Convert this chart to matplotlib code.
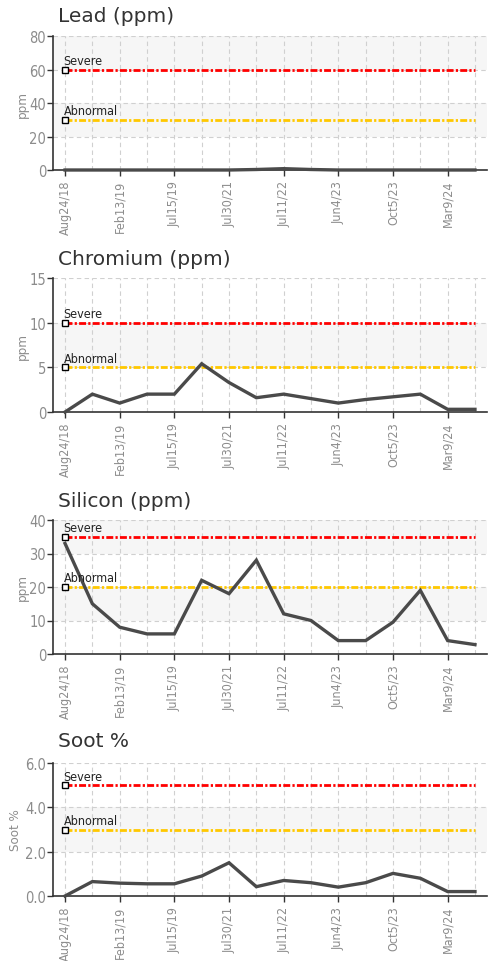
"""
Oil analysis trend charts: lead, chromium, silicon and soot.
"""

import matplotlib
matplotlib.use("Agg")
import matplotlib.pyplot as plt


SAMPLE_DATES = [
    "Aug24/18", "", "Feb13/19", "", "Jul15/19", "", "Jul30/21", "",
    "Jul11/22", "", "Jun4/23", "", "Oct5/23", "", "Mar9/24", "",
]

LEAD = [0, 0, 0, 0, 0, 0, 0, 0.3, 0.8, 0.3, 0, 0, 0, 0, 0, 0]
CHROMIUM = [0, 2, 1, 2, 2, 5.4, 3.3, 1.6, 2, 1.5, 1, 1.4, 1.7, 2, 0.3, 0.3]
SILICON = [33, 15, 8, 6, 6, 22, 18, 28, 12, 10, 4, 4, 9.5, 19, 4, 2.8]
SOOT = [0, 0.65, 0.58, 0.55, 0.55, 0.9, 1.5, 0.42, 0.7, 0.6, 0.4, 0.6,
        1.02, 0.8, 0.2, 0.2]

TITLES = ["Lead (ppm)", "Chromium (ppm)", "Silicon (ppm)", "Soot %"]
Y_LABELS = ["ppm", "ppm", "ppm", "Soot %"]
Y_TICKS = [
    [0, 20, 40, 60, 80],
    [0, 5, 10, 15],
    [0, 10, 20, 30, 40],
    [0, 2, 4, 6],
]
Y_TICK_LABELS = [
    ["0", "20", "40", "60", "80"],
    ["0", "5", "10", "15"],
    ["0", "10", "20", "30", "40"],
    ["0.0", "2.0", "4.0", "6.0"],
]
SEVERE = [60, 10, 35, 5]
ABNORMAL = [30, 5, 20, 3]

TICK_GREY = "#8c8c8c"
LINE_GREY = "#4a4a4a"

# axes boxes in figure pixels: (top, bottom)
FIG_W, FIG_H = 495, 962
PANELS_PX = [(37, 171), (279, 413), (521, 655), (764, 897)]
TITLE_BASELINES = [22, 265, 507, 747]
LABEL_X = [-0.055, -0.055, -0.055, -0.072]


def narrow(size, color):
    return dict(family="DejaVu Sans", fontstretch="condensed",
                fontsize=size, color=color)


def draw_panel(ax, values, yticks, ytick_labels, ylabel, severe, abnormal):
    """
    One trend chart with limit lines and alternating bands.
    """
    xs = list(range(len(values)))
    ax.set_xlim(-0.44, len(values) - 1 + 0.44)
    ax.set_ylim(yticks[0], yticks[-1])

    # alternate grey bands like the web chart
    for i in range(1, len(yticks) - 1, 2):
        ax.axhspan(yticks[i], yticks[i + 1], color="#f6f6f6", zorder=0, lw=0)

    for x in xs:
        ax.axvline(x, color="#d0d0d0", lw=0.8, ls=(0, (4, 3)), zorder=1)
    for y in yticks[1:]:
        ax.axhline(y, color="#d0d0d0", lw=0.8, ls=(0, (4, 3)), zorder=1)

    for level, colour, name in [(severe, "#ff0000", "Severe"),
                                (abnormal, "#ffc800", "Abnormal")]:
        ax.plot([xs[0], xs[-1]], [level, level], color=colour, lw=2,
                ls=(0, (2.5, 0.8, 0.8, 0.8)), zorder=3)
        ax.plot(xs[0], level, marker="s", ms=4.5, mfc="white", mec="black",
                mew=1.0, zorder=5, clip_on=False)
        ax.annotate(name, (xs[0], level), xytext=(-1, 4),
                    textcoords="offset points", zorder=6,
                    **narrow(9, "#222222"))

    ax.plot(xs, values, color=LINE_GREY, lw=2.4, zorder=4,
            solid_joinstyle="miter", clip_on=False)

    ax.set_yticks(yticks)
    ax.set_yticklabels(ytick_labels, **narrow(10.5, TICK_GREY))
    ax.set_xticks(xs[::2])
    ax.set_xticklabels(SAMPLE_DATES[::2], rotation=90, **narrow(9, TICK_GREY))
    ax.tick_params(axis="y", length=4, width=1, color="#333333", pad=1)
    ax.tick_params(axis="x", length=4, width=1, color="#333333", pad=3)

    ax.set_ylabel(ylabel, **narrow(9.5, TICK_GREY))

    for side in ["top", "right"]:
        ax.spines[side].set_visible(False)
    for side in ["left", "bottom"]:
        ax.spines[side].set_color("#333333")
        ax.spines[side].set_linewidth(1.2)


fig = plt.figure(figsize=(FIG_W / 100, FIG_H / 100), dpi=100)

all_values = [LEAD, CHROMIUM, SILICON, SOOT]
left, right = 53 / FIG_W, 487 / FIG_W
for k, (top, bottom) in enumerate(PANELS_PX):
    ax = fig.add_axes([left, 1 - bottom / FIG_H, right - left,
                       (bottom - top) / FIG_H])
    draw_panel(ax, all_values[k], Y_TICKS[k], Y_TICK_LABELS[k],
               Y_LABELS[k], SEVERE[k], ABNORMAL[k])
    ax.yaxis.set_label_coords(LABEL_X[k], 0.5)
    fig.text(58 / FIG_W, 1 - TITLE_BASELINES[k] / FIG_H, TITLES[k],
             fontsize=14.5, color="#333333", va="baseline", ha="left",
             family="DejaVu Sans")

fig.savefig("out.png", dpi=100)
